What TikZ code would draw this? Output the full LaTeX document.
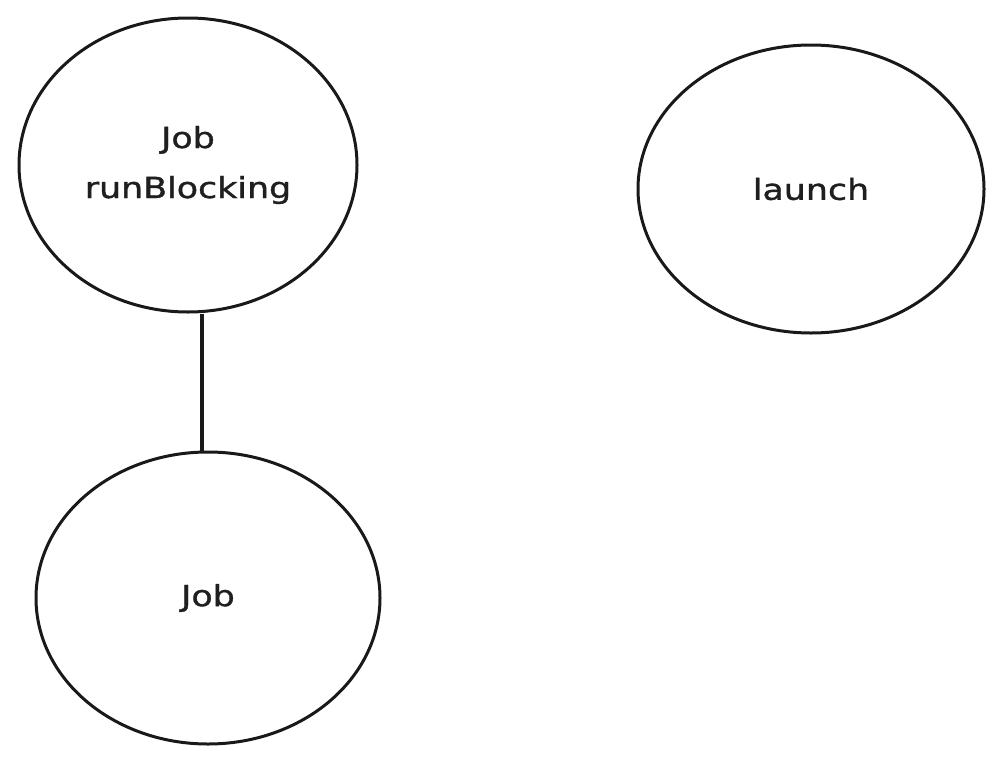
\documentclass[tikz,border=0pt]{standalone}
\usepackage{fontspec}
\usetikzlibrary{shapes.geometric}
\setmainfont[FakeStretch=1.2,FakeBold=1.2]{DejaVu Sans}
\begin{document}
\begin{tikzpicture}[x=1pt,y=-1pt,
  bubble/.style={draw=black!90, line width=3pt, ellipse, inner sep=0pt,
    font=\fontsize{29}{50}\selectfont, align=center, text=black!88},
  link/.style={draw=black!90, line width=3.6pt}]
\useasboundingbox (0,0) rectangle (1006,763);
\node[bubble, minimum width=338pt, minimum height=294pt] (a) at (188,165) {Job\\runBlocking};
\node[bubble, minimum width=346pt, minimum height=288pt] (b) at (811,189) {launch};
\node[bubble, minimum width=344pt, minimum height=292pt] (c) at (208,598) {Job};
\draw[link] ([xshift=14pt]a.south) -- ([xshift=-6pt]c.north);
\end{tikzpicture}
\end{document}
